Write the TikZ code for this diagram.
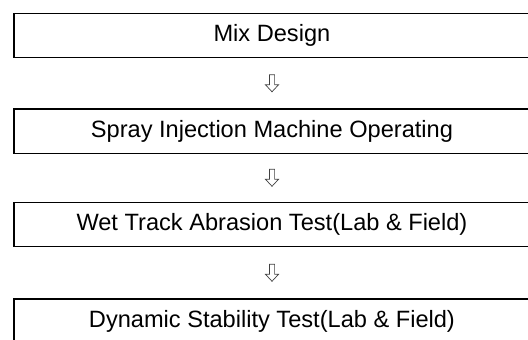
\documentclass[tikz,border=0pt]{standalone}
\usepackage{fontspec}
\setmainfont{Liberation Sans}
\usetikzlibrary{calc}
\tikzset{
  stepbox/.style={draw=black, line width=1.3pt, minimum width=516pt, minimum height=44.3pt,
    inner sep=0pt, font=\fontsize{23.6}{28}\selectfont, anchor=north west},
  hollowarrow/.style={draw=black!75, line width=0.7pt, line join=miter}
}
\newcommand{\downarrowshape}[1]{%
  \draw[hollowarrow] ($(#1)+(-2.6pt,8.5pt)$) -- ($(#1)+(2.6pt,8.5pt)$) -- ($(#1)+(2.6pt,-1.5pt)$)
    -- ($(#1)+(6.5pt,-1.5pt)$) -- ($(#1)+(0pt,-8.5pt)$) -- ($(#1)+(-6.5pt,-1.5pt)$)
    -- ($(#1)+(-2.6pt,-1.5pt)$) -- cycle;}
\begin{document}
\begin{tikzpicture}[x=1pt,y=-1pt]
\useasboundingbox (0,0) rectangle (528,340);
\clip (0,0) rectangle (528,340);
\node[stepbox] (b1) at (13.3,12.7) {Mix Design};
\node[stepbox] (b2) at (13.3,108.3) {Spray Injection Machine Operating};
\node[stepbox] (b3) at (13.3,201.7) {Wet Track Abrasion Test(Lab \& Field)};
\node[stepbox] (b4) at (13.3,298.3) {Dynamic Stability Test(Lab \& Field)};
\path let \p1=(b1.south), \p2=(b2.north) in coordinate (a1) at (272pt,{0.5*(\y1+\y2)});
\path let \p1=(b2.south), \p2=(b3.north) in coordinate (a2) at (272pt,{0.5*(\y1+\y2)});
\path let \p1=(b3.south), \p2=(b4.north) in coordinate (a3) at (272pt,{0.5*(\y1+\y2)});
\downarrowshape{a1}
\downarrowshape{a2}
\downarrowshape{a3}
\end{tikzpicture}
\end{document}
